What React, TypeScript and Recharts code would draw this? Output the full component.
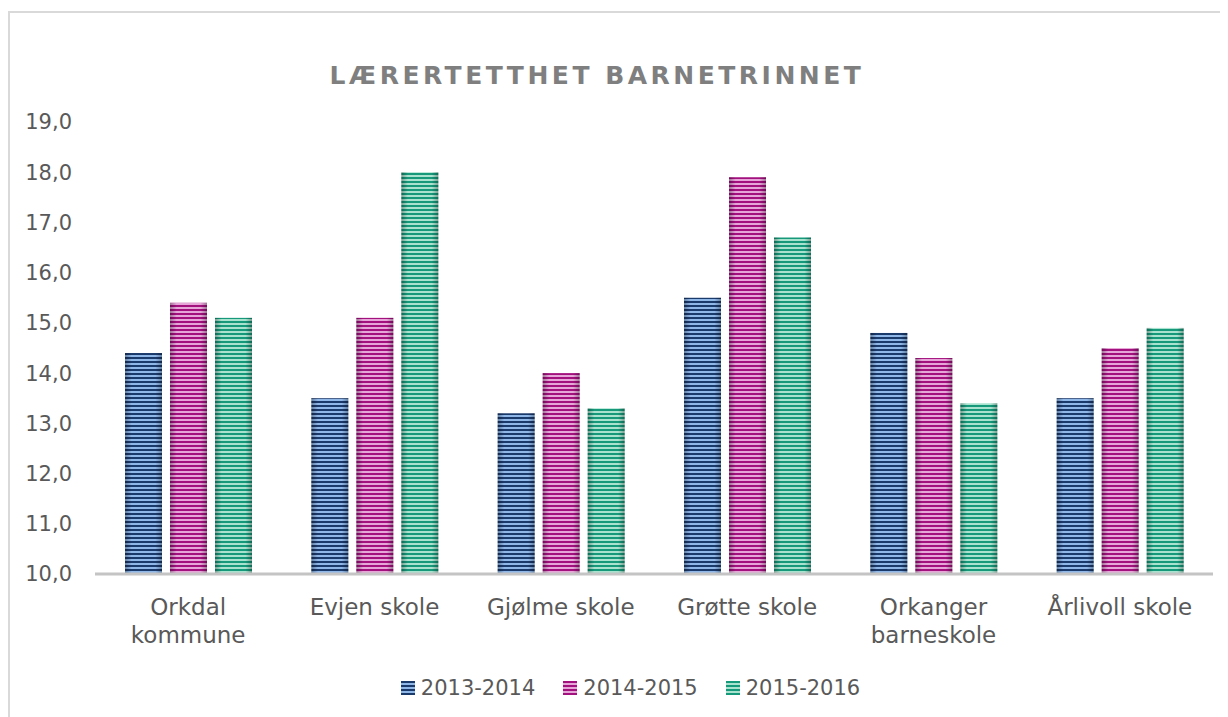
import { BarChart, Bar, XAxis, YAxis, Legend } from 'recharts';

const categories = ['Orkdal\nkommune', 'Evjen skole', 'Gjølme skole', 'Grøtte skole', 'Orkanger\nbarneskole', 'Årlivoll skole'];
const y2013 = [14.4, 13.5, 13.2, 15.5, 14.8, 13.5];
const y2014 = [15.4, 15.1, 14.0, 17.9, 14.3, 14.5];
const y2015 = [15.1, 18.0, 13.3, 16.7, 13.4, 14.9];
const yTicks = [10, 11, 12, 13, 14, 15, 16, 17, 18, 19];

const series = [
  { key: 's1', name: '2013-2014', dark: '#1b3a6c', light: '#8fb7e8' },
  { key: 's2', name: '2014-2015', dark: '#a3117f', light: '#e6a6d8' },
  { key: 's3', name: '2015-2016', dark: '#16987a', light: '#a9e3d0' },
];

const data = categories.map((c, i) => ({ name: c, s1: y2013[i], s2: y2014[i], s3: y2015[i] }));

const FONT = '"DejaVu Sans", sans-serif';
const TEXT = '#595959';

function StripedBar(props: any) {
  const { x, y, width, height, dataKey } = props;
  if (!height || height <= 0) return null;
  return (
    <g>
      <rect x={x} y={y} width={width} height={height} fill={`url(#stripes-${dataKey})`} />
      <rect x={x} y={y} width={width} height={height} fill="url(#edgeShade)" />
    </g>
  );
}

function CategoryTick(props: any) {
  const { x, y, payload } = props;
  const lines = String(payload.value).split('\n');
  return (
    <text x={x} y={y + 41} textAnchor="middle" fill={TEXT} fontSize={23} fontFamily={FONT}>
      {lines.map((l, i) => (
        <tspan key={i} x={x} dy={i === 0 ? 0 : 28}>{l}</tspan>
      ))}
    </text>
  );
}

function LegendContent() {
  return (
    <div style={{ display: 'flex', justifyContent: 'center', alignItems: 'center', gap: 28, fontFamily: FONT, fontSize: 21, color: TEXT, height: 30, paddingLeft: 38 }}>
      {series.map((s) => (
        <div key={s.key} style={{ display: 'flex', alignItems: 'center' }}>
          <svg width={14} height={14} style={{ marginRight: 6 }}>
            <rect x={0} y={0} width={14} height={14} fill={`url(#stripes-${s.key})`} />
          </svg>
          <span>{s.name}</span>
        </div>
      ))}
    </div>
  );
}

export default function App() {
  return (
    <div style={{ paddingTop: 3 }}>
      <svg width={0} height={0} style={{ position: 'absolute' }}>
        <defs>
          {series.map((s) => (
            <pattern key={s.key} id={`stripes-${s.key}`} patternUnits="userSpaceOnUse" width={4} height={4}>
              <rect x={0} y={0} width={4} height={4} fill={s.light} />
              <rect x={0} y={0} width={4} height={2} fill={s.dark} />
            </pattern>
          ))}
          <linearGradient id="edgeShade" x1="0" y1="0" x2="1" y2="0">
            <stop offset="0" stopColor="#000" stopOpacity={0.3} />
            <stop offset="0.18" stopColor="#000" stopOpacity={0} />
            <stop offset="0.82" stopColor="#000" stopOpacity={0} />
            <stop offset="1" stopColor="#000" stopOpacity={0.3} />
          </linearGradient>
        </defs>
      </svg>
      <div style={{ position: 'relative', width: 1218, height: 704, border: '2px solid #d9d9d9', background: '#fff' }}>
        <div style={{ position: 'absolute', top: 48, left: 0, width: 1174, textAlign: 'center', fontFamily: FONT, fontWeight: 'bold', fontSize: 25, letterSpacing: 3.5, color: '#7f7f7f' }}>
          LÆRERTETTHET BARNETRINNET
        </div>
        <BarChart width={1218} height={704} data={data} margin={{ top: 109, right: 15, left: 0, bottom: 14 }} barSize={37} barGap={8}>
          <XAxis dataKey="name" interval={0} tickLine={false} tickSize={0} tickMargin={0} height={99}
            axisLine={{ stroke: '#c4c4c4', strokeWidth: 3 }} tick={<CategoryTick />} />
          <YAxis domain={[10, 19]} ticks={yTicks} width={85} axisLine={false} tickLine={false} tickMargin={17}
            tickFormatter={(v: number) => v.toFixed(1).replace('.', ',')}
            tick={{ fill: TEXT, fontSize: 21, fontFamily: FONT }} />
          <Legend verticalAlign="bottom" height={30} content={<LegendContent />} />
          {series.map((s) => (
            <Bar key={s.key} dataKey={s.key} name={s.name} fill={s.dark} shape={<StripedBar />} isAnimationActive={false} />
          ))}
        </BarChart>
      </div>
    </div>
  );
}
